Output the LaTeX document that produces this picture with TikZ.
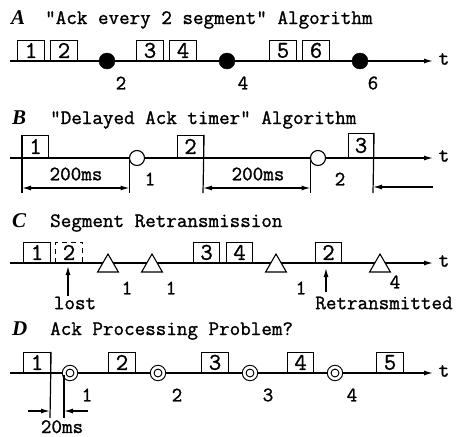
\documentclass[tikz,border=0pt]{standalone}
\usepackage{fontspec}
\newfontfamily\cour{Latin Modern Mono}[FakeBold=1.2]
\newfontfamily\ttlfont{Liberation Serif}
\usetikzlibrary{arrows.meta,shapes.geometric}
\begin{document}
\begin{tikzpicture}[x=1pt,y=-1pt,
  lbl/.style={font=\cour\fontsize{20.5}{20.5}\selectfont, inner sep=0pt},
  ttl/.style={font=\cour\fontsize{20.5}{20.5}\selectfont, inner sep=0pt, anchor=base west},
  ltr/.style={font=\ttlfont\bfseries\itshape\fontsize{21}{21}\selectfont, inner sep=0pt, anchor=base west},
  segbox/.style={draw, line width=1.1pt, minimum width=27pt, minimum height=20pt, anchor=south west, inner sep=0pt, font=\cour\fontsize{24}{24}\selectfont},
  lostbox/.style={segbox, dashed, dash pattern=on 5pt off 4pt},
  axis/.style={line width=1.3pt, -{Latex[length=9pt,width=5pt]}},
  vline/.style={line width=1.2pt},
  dim/.style={line width=1.2pt, {Latex[length=9pt,width=5pt]}-{Latex[length=9pt,width=5pt]}},
  onearr/.style={line width=1.2pt, -{Latex[length=9pt,width=5pt]}},
  ackA/.style={circle, draw, fill, minimum size=16pt, inner sep=0pt},
  ackB/.style={circle, draw, fill=white, line width=1.1pt, minimum size=15pt, inner sep=0pt},
  ackD/.style={circle, draw, fill=white, line width=1.1pt, double, double distance=2.6pt, minimum size=11.5pt, inner sep=0pt},
  ackC/.style={regular polygon, regular polygon sides=3, draw, fill=white, line width=1.1pt, minimum size=24pt, inner sep=0pt}
]
\useasboundingbox (0,0) rectangle (459,437);

% ---------------- Panel A ----------------
\node[ltr] (tA) at (11,24) {A};
\node[ttl] (tAt) at (45,24) {"Ack every 2 segment" Algorithm};
\coordinate (aS) at (10,61);
\coordinate (aE) at (433,61);
\draw[axis] (aS) -- (aE);
\node[lbl] (at) at (444,59) {t};
\node[segbox] (a1) at (17,61) {1};
\node[segbox] (a2) at (50,61) {2};
\node[segbox] (a3) at (136,61) {3};
\node[segbox] (a4) at (169,61) {4};
\node[segbox] (a5) at (269,61) {5};
\node[segbox] (a6) at (302,61) {6};
\node[ackA] (ac1) at (107,61) {};
\node[ackA] (ac2) at (227,61) {};
\node[ackA] (ac3) at (360,61) {};
\node[lbl] (al1) at (121,83) {2};
\node[lbl] (al2) at (243,83) {4};
\node[lbl] (al3) at (373,83) {6};

% ---------------- Panel B ----------------
\node[ltr] (tB) at (12,124) {B};
\node[ttl] (tBt) at (50,124) {"Delayed Ack timer" Algorithm};
\coordinate (bS) at (10,158);
\coordinate (bE) at (433,158);
\draw[axis] (bS) -- (bE);
\node[lbl] (bt) at (444,156) {t};
\node[segbox, minimum width=26pt, minimum height=22pt] (b1) at (22,158) {1};
\node[segbox, minimum width=26pt, minimum height=22pt] (b2) at (177,158) {2};
\node[segbox, minimum width=25pt, minimum height=24pt] (b3) at (348,158) {3};
\node[ackB] (bc1) at (137,158) {};
\node[ackB] (bc2) at (318,158) {};
\coordinate (bv1) at (22,193);
\coordinate (bv2t) at (129.5,160);
\coordinate (bv2) at (129.5,193);
\coordinate (bv3) at (203,193);
\coordinate (bv4t) at (310.5,160);
\coordinate (bv4) at (310.5,193);
\coordinate (bv5) at (373,193);
\draw[vline] (b1.north west) -- (bv1);
\draw[vline] (bv2t) -- (bv2);
\draw[vline] (b2.north east) -- (bv3);
\draw[vline] (bv4t) -- (bv4);
\draw[vline] (b3.north east) -- (bv5);
\coordinate (bd1) at (22,188);
\coordinate (bd2) at (129.5,188);
\coordinate (bd3) at (203,188);
\coordinate (bd4) at (310.5,188);
\coordinate (bd5) at (433,187);
\coordinate (bd6) at (373,187);
\draw[dim] (bd1) -- (bd2);
\draw[dim] (bd3) -- (bd4);
\draw[onearr] (bd5) -- (bd6);
\node[lbl] (bms1) at (76,174) {200ms};
\node[lbl] (bms2) at (258,174) {200ms};
\node[lbl] (bl1) at (150,179) {1};
\node[lbl] (bl2) at (340,179) {2};

% ---------------- Panel C ----------------
\node[ltr] (tC) at (12,227) {C};
\node[ttl] (tCt) at (50,227) {Segment Retransmission};
\coordinate (cS) at (10,263);
\coordinate (cE) at (433,263);
\draw[axis] (cS) -- (cE);
\node[lbl] (ct) at (444,261) {t};
\node[segbox] (c1) at (23,263) {1};
\node[lostbox] (c2) at (55,263) {2};
\node[segbox, minimum width=26pt] (c3) at (193,263) {3};
\node[segbox, minimum width=26pt] (c4) at (226,263) {4};
\node[segbox, minimum width=26pt] (c5) at (315,263) {2};
\node[ackC] (cc1) at (108,266) {};
\node[ackC] (cc2) at (152,266) {};
\node[ackC] (cc3) at (276,266) {};
\node[ackC] (cc4) at (380,266) {};
\node[lbl] (cl1) at (127,288) {1};
\node[lbl] (cl2) at (171,288) {1};
\node[lbl] (cl3) at (301,288) {1};
\node[lbl] (cl4) at (395,282) {4};
\coordinate (cla) at (68,296);
\coordinate (clb) at (68,266);
\draw[onearr] (cla) -- (clb);
\node[lbl] (clost) at (75,303) {lost};
\coordinate (cra) at (326,292);
\coordinate (crb) at (326,268);
\draw[onearr] (cra) -- (crb);
\node[lbl] (cret) at (384,303) {Retransmitted};

% ---------------- Panel D ----------------
\node[ltr] (tD) at (12,335) {D};
\node[ttl] (tDt) at (50,335) {Ack Processing Problem?};
\coordinate (dS) at (10,373);
\coordinate (dE) at (433,373);
\draw[axis] (dS) -- (dE);
\node[lbl] (dt) at (444,371) {t};
\node[segbox] (d1) at (23,373) {1};
\node[segbox] (d2) at (108,373) {2};
\node[segbox] (d3) at (201,373) {3};
\node[segbox, minimum width=26pt] (d4) at (287,373) {4};
\node[segbox] (d5) at (376,373) {5};
\node[ackD] (dc1) at (70,373) {};
\node[ackD] (dc2) at (158,373) {};
\node[ackD] (dc3) at (250,373) {};
\node[ackD] (dc4) at (335,373) {};
\coordinate (dv1) at (50,418);
\coordinate (dv2t) at (64,375);
\coordinate (dv2) at (64,418);
\draw[vline] (d1.north east) -- (dv1);
\draw[vline] (dv2t) -- (dv2);
\coordinate (da1) at (28,411);
\coordinate (da2) at (50,411);
\coordinate (da3) at (88,411);
\coordinate (da4) at (64,411);
\draw[onearr] (da1) -- (da2);
\draw[onearr] (da3) -- (da4);
\node[lbl, anchor=base] (dms) at (62,433) {20ms};
\node[lbl] (dl1) at (87,395) {1};
\node[lbl] (dl2) at (177,395) {2};
\node[lbl] (dl3) at (268,395) {3};
\node[lbl] (dl4) at (352,395) {4};
\end{tikzpicture}
\end{document}
